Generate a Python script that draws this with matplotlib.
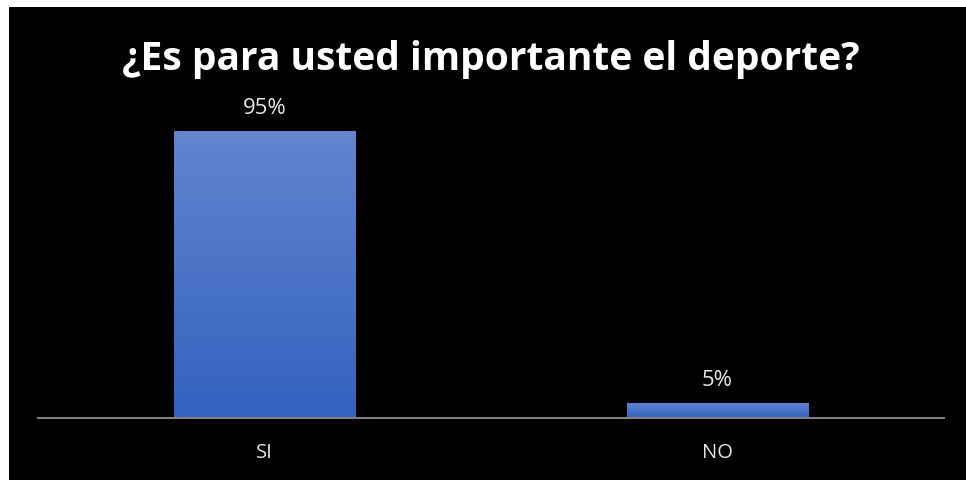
import matplotlib
matplotlib.use("Agg")
import matplotlib.pyplot as plt
import numpy as np
from matplotlib.patches import Rectangle
from matplotlib.colors import LinearSegmentedColormap

categories = ["SI", "NO"]
values = [95, 5]
labels = ["95%", "5%"]
title = "¿Es para usted importante el deporte?"

W, H = 966, 481
fig = plt.figure(figsize=(W / 100, H / 100), dpi=100, facecolor="black")
# white strips at top and left
fig.patches.append(Rectangle((0, 1 - 8 / H), 1, 8 / H, transform=fig.transFigure,
                             facecolor="white", edgecolor="none", zorder=-10))
fig.patches.append(Rectangle((0, 0), 9 / W, 1, transform=fig.transFigure,
                             facecolor="white", edgecolor="none", zorder=-10))

ax_left, ax_right = 38 / W, 944 / W
ax_bottom = (H - 419) / H
ax_h = (419 - 116.9) / H
ax = fig.add_axes([ax_left, ax_bottom, ax_right - ax_left, ax_h])
ax.set_facecolor("none")

cmap = LinearSegmentedColormap.from_list("g", ["#3262BF", "#6384CE"])
grad = np.linspace(0, 1, 256).reshape(-1, 1)
x = np.arange(len(categories))
bars = ax.bar(x, values, width=0.40, color="none", edgecolor="none")
for b in bars:
    x0, y0, w, h = b.get_x(), b.get_y(), b.get_width(), b.get_height()
    im = ax.imshow(grad, extent=[x0, x0 + w, y0, y0 + h], origin="lower",
                   cmap=cmap, aspect="auto", zorder=2)
    im.set_clip_path(b)
ax.set_xlim(-0.5, 1.5)
ax.set_ylim(0, 100)

for xi, v, lab in zip(x, values, labels):
    ax.annotate(lab, (xi, v), xytext=(0, 12.8), textcoords="offset points",
                ha="center", va="baseline", color="#e6e6e6", fontsize=16,
                family="Open Sans")

for s in ["top", "left", "right"]:
    ax.spines[s].set_visible(False)
ax.spines["bottom"].set_color("#7f7f7f")
ax.spines["bottom"].set_linewidth(1.5)
ax.spines["bottom"].set_zorder(3)
ax.set_yticks([])
ax.set_xticks(x)
ax.set_xticklabels(categories, color="#e6e6e6", fontsize=14.5, family="Open Sans")
ax.tick_params(axis="x", length=0, pad=17)

fig.text(491 / W, 1 - 70 / H, title, ha="center", va="baseline", color="white",
         fontsize=28.1, fontweight="bold", family="Open Sans")

fig.savefig("out.png", dpi=100, facecolor="black")
